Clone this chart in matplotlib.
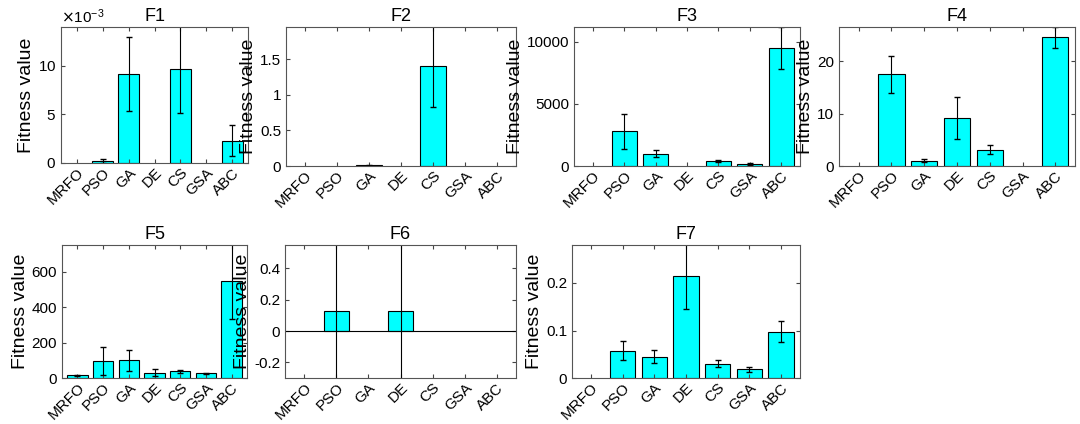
import matplotlib
matplotlib.use("Agg")
import matplotlib.pyplot as plt
from matplotlib.ticker import ScalarFormatter, FuncFormatter

plt.rcParams['font.family'] = ['Liberation Sans', 'DejaVu Sans']

algos = ["MRFO", "PSO", "GA", "DE", "CS", "GSA", "ABC"]
f1 = [0, 0.25e-3, 9.2e-3, 0, 9.7e-3, 0, 2.3e-3]
f1_err = [0, 0.2e-3, 3.8e-3, 0, 4.6e-3, 0, 1.6e-3]
f2 = [0, 0, 0.01, 0, 1.4, 0, 0]
f2_err = [0, 0, 0.003, 0, 0.57, 0, 0]
f3 = [0, 2800, 1000, 0, 400, 200, 9500]
f3_err = [0, 1400, 300, 0, 100, 80, 1700]
f4 = [0, 17.5, 1.0, 9.2, 3.1, 0, 24.5]
f4_err = [0, 3.5, 0.3, 4.0, 0.9, 0, 2.0]
f5 = [15, 95, 100, 30, 37, 27, 545]
f5_err = [1, 80, 60, 18, 10, 4, 210]
f6 = [0, 0.13, 0, 0.13, 0, 0, 0]
f6_err = [0, 1.0, 0, 1.0, 0, 0, 0]
f7 = [0, 0.057, 0.045, 0.215, 0.030, 0.018, 0.097]
f7_err = [0, 0.02, 0.013, 0.07, 0.007, 0.006, 0.022]

panels = [
    ("F1", f1, f1_err, (0, 0.014), [0, 0.005, 0.010], (61, 27, 248, 163)),
    ("F2", f2, f2_err, (0, 1.95), [0, 0.5, 1, 1.5], (286, 27, 516, 166)),
    ("F3", f3, f3_err, (0, 11200), [0, 5000, 10000], (574, 27, 800, 166)),
    ("F4", f4, f4_err, (0, 26.5), [0, 10, 20], (839, 27, 1075, 166)),
    ("F5", f5, f5_err, (0, 750), [0, 200, 400, 600], (62, 245, 247, 378)),
    ("F6", f6, f6_err, (-0.3, 0.55), [-0.2, 0, 0.2, 0.4], (285, 245, 516, 378)),
    ("F7", f7, f7_err, (0, 0.28), [0, 0.1, 0.2], (572, 245, 800, 378)),
]

W, H = 1080, 424
fig = plt.figure(figsize=(W/100, H/100), dpi=100)
for title, vals, errs, ylim, yt, (x0, y0, x1, y1) in panels:
    ax = fig.add_axes([x0/W, 1 - y1/H, (x1-x0)/W, (y1-y0)/H])
    x = list(range(len(algos)))
    lws = [0.8 if v != 0 else 0 for v in vals]
    ax.bar(x, vals, width=0.8, color='#00FFFF', edgecolor='black', linewidth=lws)
    ex = [xi for xi, e in zip(x, errs) if e > 0]
    ev = [v for v, e in zip(vals, errs) if e > 0]
    ee = [e for e in errs if e > 0]
    ax.errorbar(ex, ev, yerr=ee, fmt='none', ecolor='black', elinewidth=0.8, capsize=2)
    if title == "F6":
        ax.axhline(0, color='black', linewidth=0.8)
    ax.set_xlim(-0.6, 6.6)
    ax.set_ylim(*ylim)
    ax.set_yticks(yt)
    if title == "F1":
        fmt = ScalarFormatter(useMathText=True)
        fmt.set_powerlimits((-3, -3))
        ax.yaxis.set_major_formatter(fmt)
        ax.yaxis.get_offset_text().set_fontsize(11)
    else:
        ax.yaxis.set_major_formatter(FuncFormatter(lambda v, p: "%g" % round(v, 6)))
    ax.set_xticks(x)
    ax.set_xticklabels(algos, rotation=45, ha='right', rotation_mode='anchor')
    ax.tick_params(labelsize=11, direction='in', top=True, right=True, length=3, color='#444444')
    ax.tick_params(axis='x', pad=2)
    for s in ax.spines.values():
        s.set_color('#555555')
    ax.set_ylabel("Fitness value", fontsize=14, labelpad=2)
    ax.set_title(title, fontsize=13, pad=4)

fig.savefig("out.png", dpi=100)
